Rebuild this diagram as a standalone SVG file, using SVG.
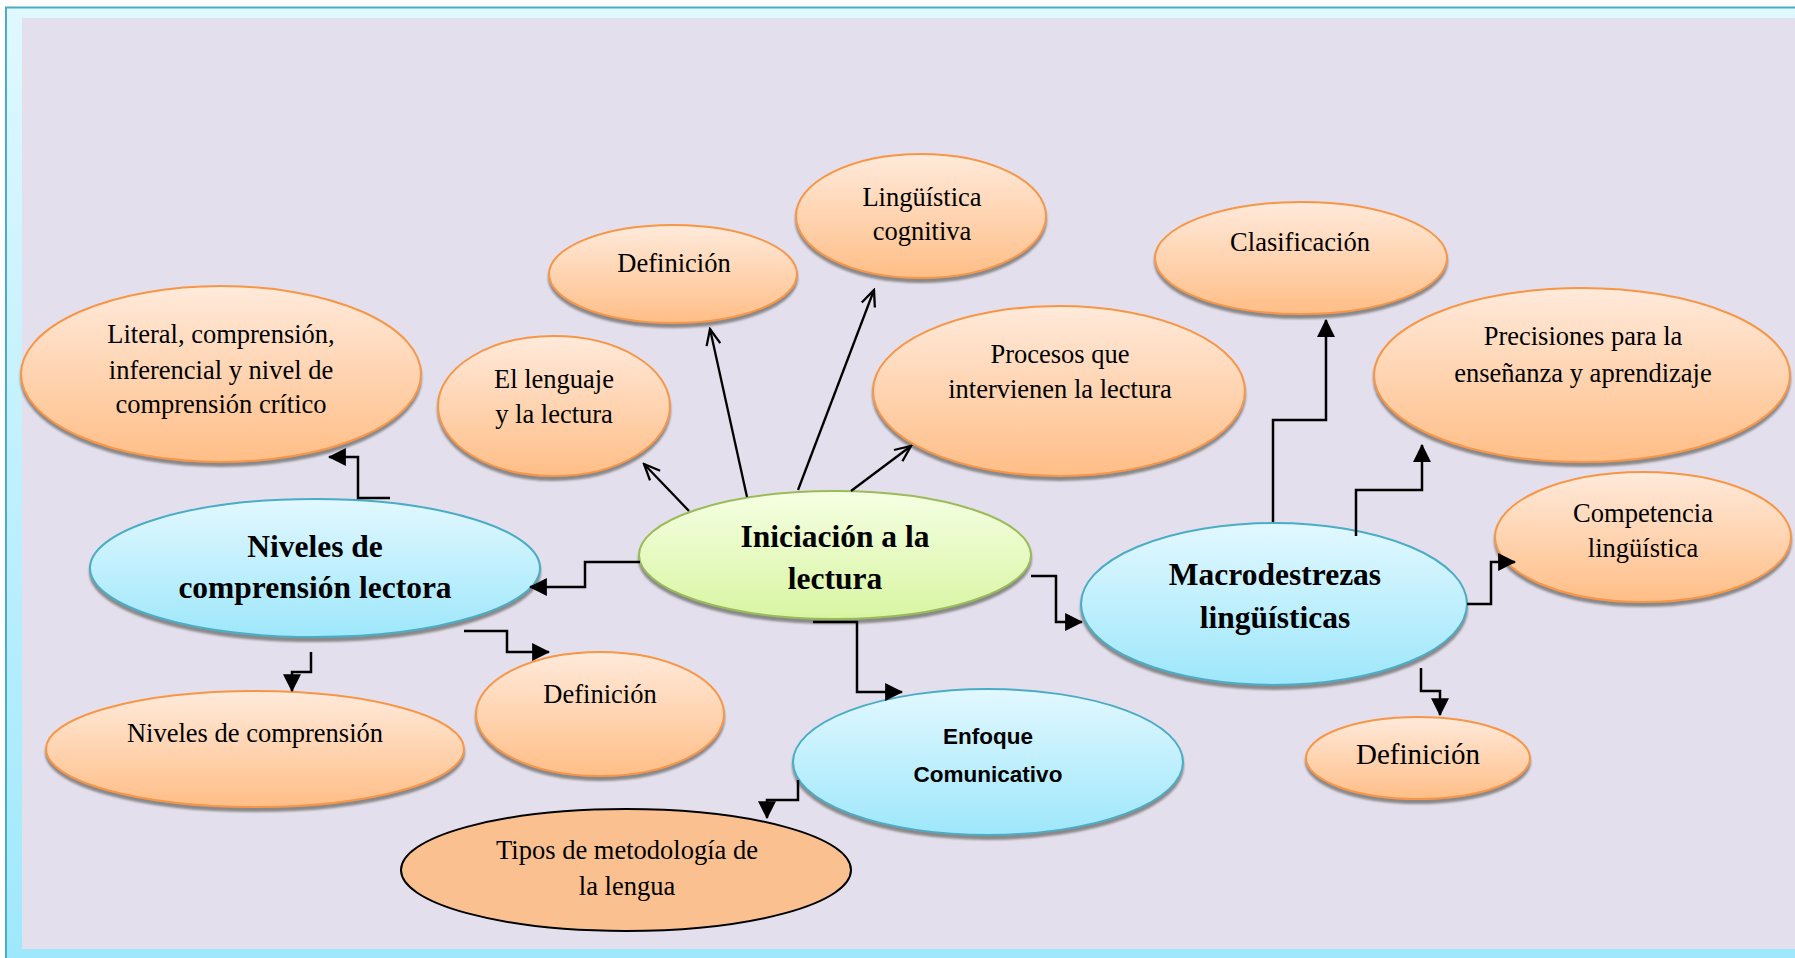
<svg xmlns="http://www.w3.org/2000/svg" width="1795" height="958" viewBox="0 0 1795 958">
<defs>
<linearGradient id="gFrame" x1="0" y1="0" x2="0" y2="1"><stop offset="0" stop-color="#E0F8FF"/><stop offset="1" stop-color="#9EE8FC"/></linearGradient>
<linearGradient id="gOr" x1="0" y1="0" x2="0" y2="1"><stop offset="0" stop-color="#FFEADB"/><stop offset="1" stop-color="#FFBE87"/></linearGradient>
<linearGradient id="gBl" x1="0" y1="0" x2="0" y2="1"><stop offset="0" stop-color="#E2F8FF"/><stop offset="1" stop-color="#9EE7FB"/></linearGradient>
<linearGradient id="gGr" x1="0" y1="0" x2="0" y2="1"><stop offset="0" stop-color="#F5FFE3"/><stop offset="1" stop-color="#D8F5A2"/></linearGradient>
<filter id="sh" x="-10%" y="-10%" width="120%" height="130%"><feDropShadow dx="0" dy="4" stdDeviation="1.2" flood-color="#7F7F7F" flood-opacity="0.9"/></filter>
<marker id="fa" markerUnits="userSpaceOnUse" markerWidth="18" markerHeight="18" viewBox="0 0 16 16" refX="15" refY="8" orient="auto"><path d="M0,0 L16,8 L0,16 z" fill="#000"/></marker>
<marker id="oa" markerUnits="userSpaceOnUse" markerWidth="20" markerHeight="20" viewBox="-2 -9 20 18" refX="16" refY="0" orient="auto"><path d="M0,-7 L16,0 L0,7" fill="none" stroke="#000" stroke-width="2.3"/></marker>
<style>
.or{fill:url(#gOr);stroke:#F79646;stroke-width:2;filter:url(#sh)}
.bl{fill:url(#gBl);stroke:#4BACC6;stroke-width:2;filter:url(#sh)}
.gr{fill:url(#gGr);stroke:#9BBB59;stroke-width:2;filter:url(#sh)}
.tp{fill:#FAC090;stroke:#000;stroke-width:2}
.t{font-family:"Liberation Serif","Times New Roman",serif;font-size:26.5px;fill:#000;text-anchor:middle}
.b{font-family:"Liberation Serif","Times New Roman",serif;font-size:31.5px;font-weight:bold;fill:#000;text-anchor:middle}
.s{font-family:"Liberation Sans",Arial,sans-serif;font-size:22.5px;font-weight:bold;fill:#000;text-anchor:middle}
.el{fill:none;stroke:#000;stroke-width:2.5;stroke-linejoin:miter;marker-end:url(#fa)}
.st{fill:none;stroke:#000;stroke-width:2.3;marker-end:url(#oa)}
</style>
</defs>
<rect x="6" y="7.5" width="1800" height="960" fill="url(#gFrame)" stroke="#4BACC6" stroke-width="2"/>
<rect x="22" y="18" width="1773" height="931" fill="#E4DFEC"/>

<g id="n-literal"><ellipse class="or" cx="221" cy="374" rx="200" ry="88"/>
<text class="t" x="221" y="343">Literal, comprensión,</text><text class="t" x="221" y="379">inferencial y nivel de</text><text class="t" x="221" y="413">comprensión crítico</text></g>
<g id="n-lenguaje"><ellipse class="or" cx="554" cy="406" rx="116" ry="70"/>
<text class="t" x="554" y="388">El lenguaje</text><text class="t" x="554" y="423">y la lectura</text></g>
<g id="n-def1"><ellipse class="or" cx="673" cy="274" rx="124" ry="49"/>
<text class="t" x="674" y="272">Definición</text></g>
<g id="n-ling"><ellipse class="or" cx="921" cy="216" rx="125" ry="62"/>
<text class="t" x="922" y="206">Lingüística</text><text class="t" x="922" y="240">cognitiva</text></g>
<g id="n-procesos"><ellipse class="or" cx="1059" cy="391" rx="186" ry="85"/>
<text class="t" x="1060" y="363">Procesos que</text><text class="t" x="1060" y="398">intervienen la lectura</text></g>
<g id="n-clasif"><ellipse class="or" cx="1301" cy="258" rx="146" ry="56"/>
<text class="t" x="1300" y="251">Clasificación</text></g>
<g id="n-precis"><ellipse class="or" cx="1582" cy="375" rx="208" ry="87"/>
<text class="t" x="1583" y="345">Precisiones para la</text><text class="t" x="1583" y="382">enseñanza y aprendizaje</text></g>
<g id="n-compet"><ellipse class="or" cx="1643" cy="537" rx="148" ry="65"/>
<text class="t" x="1643" y="522">Competencia</text><text class="t" x="1643" y="557">lingüística</text></g>
<g id="n-macro"><ellipse class="bl" cx="1274" cy="604" rx="193" ry="81"/>
<text class="b" x="1275" y="585">Macrodestrezas</text><text class="b" x="1275" y="628">lingüísticas</text></g>
<g id="n-def4"><ellipse class="or" cx="1418" cy="758" rx="112" ry="41"/>
<text class="t" x="1418" y="764" style="font-size:29px">Definición</text></g>
<g id="n-inic"><ellipse class="gr" cx="835" cy="555" rx="196" ry="64"/>
<text class="b" x="835" y="547">Iniciación a la</text><text class="b" x="835" y="589">lectura</text></g>
<g id="n-niveles"><ellipse class="bl" cx="315" cy="568" rx="225" ry="69"/>
<text class="b" x="315" y="557">Niveles de</text><text class="b" x="315" y="598">comprensión lectora</text></g>
<g id="n-def2"><ellipse class="or" cx="600" cy="714" rx="124" ry="62"/>
<text class="t" x="600" y="703">Definición</text></g>
<g id="n-nivcomp"><ellipse class="or" cx="255" cy="749" rx="209" ry="58"/>
<text class="t" x="255" y="742">Niveles de comprensión</text></g>
<g id="n-enfoque"><ellipse class="bl" cx="988" cy="762" rx="195" ry="73"/>
<text class="s" x="988" y="744">Enfoque</text><text class="s" x="988" y="782">Comunicativo</text></g>
<g id="n-tipos"><ellipse class="tp" cx="626" cy="870" rx="225" ry="61"/>
<text class="t" x="627" y="859">Tipos de metodología de</text><text class="t" x="627" y="895">la lengua</text></g>

<g id="connectors">
<line class="st" x1="689" y1="511" x2="644" y2="464"/>
<line class="st" x1="747" y1="497" x2="710" y2="329"/>
<line class="st" x1="798" y1="490" x2="874" y2="290"/>
<line class="st" x1="851" y1="491" x2="911" y2="446"/>
<polyline class="el" points="640,562 585,562 585,587 530,587"/>
<polyline class="el" points="1031,576 1056,576 1056,622 1082,622"/>
<polyline class="el" points="813,622 857,622 857,692 902,692"/>
<polyline class="el" points="390,498 358,498 358,457 329,457"/>
<polyline class="el" points="311,652 311,672 292,672 292,691"/>
<polyline class="el" points="464,631 507,631 507,652 549,652"/>
<polyline class="el" points="798,780 798,800 767,800 767,818"/>
<polyline class="el" points="1273,522 1273,420 1326,420 1326,320"/>
<polyline class="el" points="1356,536 1356,490 1422,490 1422,445"/>
<polyline class="el" points="1467,604 1491,604 1491,562 1515,562"/>
<polyline class="el" points="1421,668 1421,691 1440,691 1440,715"/>
</g>
</svg>
